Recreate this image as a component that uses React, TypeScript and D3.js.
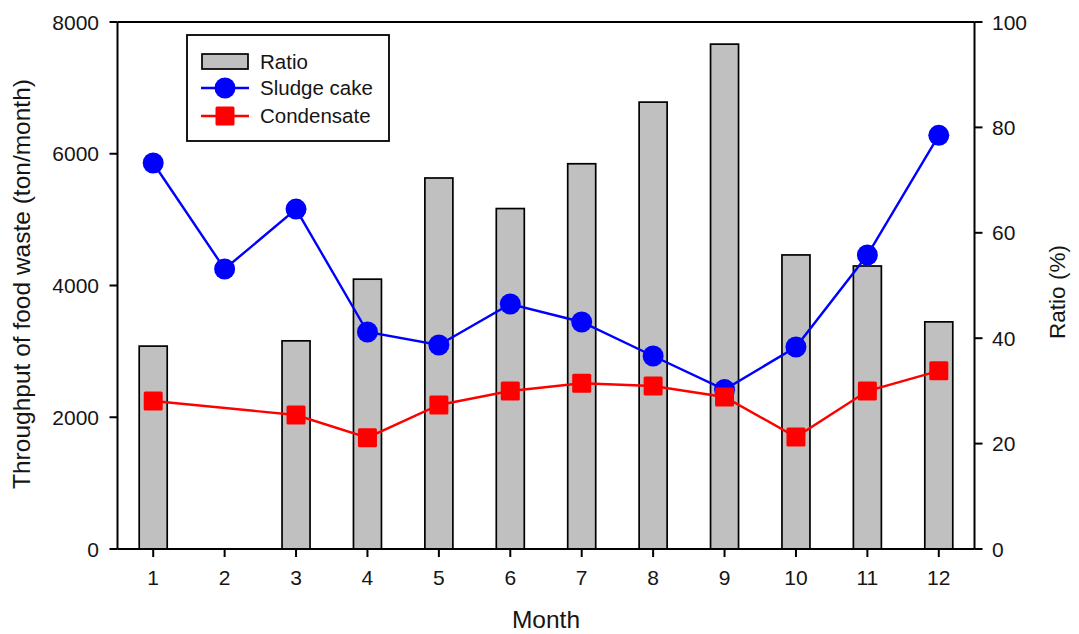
import React from "react";
import * as d3 from "d3";

const months = [1, 2, 3, 4, 5, 6, 7, 8, 9, 10, 11, 12];
const ratio: (number | null)[] = [38.5, null, 39.5, 51.2, 70.4, 64.6, 73.1, 84.8, 95.8, 55.8, 53.7, 43.1];
const sludgeCake = [5860, 4250, 5160, 3294, 3097, 3719, 3446, 2930, 2420, 3066, 4463, 6280];
const condensateMonths = [1, 3, 4, 5, 6, 7, 8, 9, 10, 11, 12];
const condensate = [2247, 2034, 1690, 2186, 2398, 2515, 2474, 2307, 1700, 2398, 2705];
const leftTicks = [0, 2000, 4000, 6000, 8000];
const rightTicks = [0, 20, 40, 60, 80, 100];

const W = 1079;
const H = 634;
const m = { left: 117.5, right: 974.5, top: 22, bottom: 549 };
const FONT = "Arial, 'Liberation Sans', sans-serif";
const TEXT = "#151515";

export default function App() {
  const x = d3.scaleLinear().domain([0.5, 12.5]).range([m.left, m.right]);
  const yL = d3.scaleLinear().domain([0, 8000]).range([m.bottom, m.top]);
  const yR = d3.scaleLinear().domain([0, 100]).range([m.bottom, m.top]);
  const barW = 28;

  const sludgeLine = d3
    .line<number>()
    .x((_, i) => x(months[i]))
    .y((d) => yL(d))(sludgeCake) as string;
  const condLine = d3
    .line<number>()
    .x((_, i) => x(condensateMonths[i]))
    .y((d) => yL(d))(condensate) as string;

  const lg = { x: 187, y: 35, w: 202, h: 106 };

  return (
    <svg width={W} height={H} style={{ position: "absolute", left: 0, top: 0, background: "#fff" }} fontFamily={FONT}>
      {/* bars */}
      {ratio.map((v, i) =>
        v == null ? null : (
          <rect
            key={"b" + i}
            x={x(months[i]) - barW / 2}
            y={yR(v)}
            width={barW}
            height={m.bottom - yR(v)}
            fill="#c0c0c0"
            stroke="#000"
            strokeWidth={1.7}
          />
        )
      )}
      {/* lines */}
      <path d={sludgeLine} fill="none" stroke="#0000ff" strokeWidth={2.4} />
      <path d={condLine} fill="none" stroke="#ff0000" strokeWidth={2.4} />
      {sludgeCake.map((v, i) => (
        <circle key={"s" + i} cx={x(months[i])} cy={yL(v)} r={10.5} fill="#0000ff" />
      ))}
      {condensate.map((v, i) => (
        <rect key={"c" + i} x={x(condensateMonths[i]) - 9.5} y={yL(v) - 9.5} width={19} height={19} rx={1.5} fill="#ff0000" />
      ))}
      {/* frame */}
      <line x1={m.left} x2={m.right} y1={m.top} y2={m.top} stroke="#000" strokeWidth={2} />
      <line x1={m.left} x2={m.right} y1={m.bottom} y2={m.bottom} stroke="#000" strokeWidth={2} />
      <line x1={m.left} x2={m.left} y1={m.top} y2={m.bottom} stroke="#000" strokeWidth={2} />
      <line x1={m.right} x2={m.right} y1={m.top} y2={m.bottom} stroke="#000" strokeWidth={2} />
      {/* left ticks */}
      {leftTicks.map((t) => (
        <g key={"lt" + t}>
          <line x1={m.left - 8} x2={m.left} y1={yL(t)} y2={yL(t)} stroke="#000" strokeWidth={2} />
          <text x={99} y={yL(t)} dy="0.36em" textAnchor="end" fontSize={21} fill={TEXT}>
            {t}
          </text>
        </g>
      ))}
      {/* right ticks */}
      {rightTicks.map((t) => (
        <g key={"rt" + t}>
          <line x1={m.right} x2={m.right + 8} y1={yR(t)} y2={yR(t)} stroke="#000" strokeWidth={2} />
          <text x={992} y={yR(t)} dy="0.36em" textAnchor="start" fontSize={21} fill={TEXT}>
            {t}
          </text>
        </g>
      ))}
      {/* x ticks */}
      {months.map((mo) => (
        <g key={"xt" + mo}>
          <line x1={x(mo)} x2={x(mo)} y1={m.bottom} y2={m.bottom + 8} stroke="#000" strokeWidth={2} />
          <text x={x(mo)} y={585} textAnchor="middle" fontSize={21} fill={TEXT}>
            {mo}
          </text>
        </g>
      ))}
      {/* axis titles */}
      <text x={546} y={628} textAnchor="middle" fontSize={24.5} fill={TEXT}>
        Month
      </text>
      <text
        transform={`translate(30, 284) rotate(-90)`}
        textAnchor="middle"
        fontSize={24.5}
        fill={TEXT}
      >
        Throughput of food waste (ton/month)
      </text>
      <text
        transform={`translate(1065, 292) rotate(-90)`}
        textAnchor="middle"
        fontSize={22.5}
        fill={TEXT}
      >
        Ratio (%)
      </text>
      {/* legend */}
      <rect x={lg.x} y={lg.y} width={lg.w} height={lg.h} fill="#fff" stroke="#000" strokeWidth={1.8} />
      <rect x={202} y={54} width={46} height={15} fill="#c0c0c0" stroke="#000" strokeWidth={1.7} />
      <text x={260} y={61.5} dy="0.36em" fontSize={20.5} fill={TEXT}>Ratio</text>
      <line x1={201} x2={249} y1={88} y2={88} stroke="#0000ff" strokeWidth={2.4} />
      <circle cx={225} cy={88} r={10.5} fill="#0000ff" />
      <text x={260} y={88} dy="0.36em" fontSize={20.5} fill={TEXT}>Sludge cake</text>
      <line x1={201} x2={249} y1={116} y2={116} stroke="#ff0000" strokeWidth={2.4} />
      <rect x={215.5} y={106.5} width={19} height={19} rx={1.5} fill="#ff0000" />
      <text x={260} y={116} dy="0.36em" fontSize={20.5} fill={TEXT}>Condensate</text>
    </svg>
  );
}
